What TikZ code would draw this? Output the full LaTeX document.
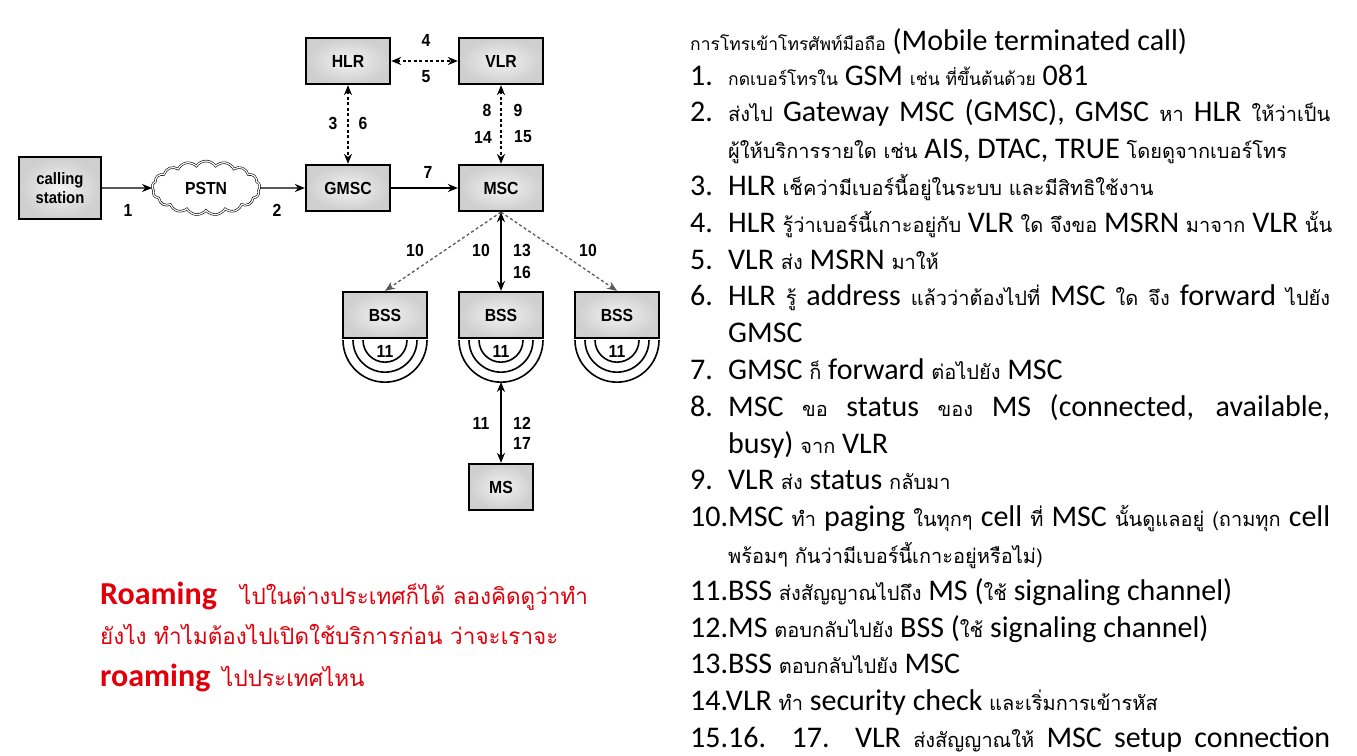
\documentclass[tikz,border=0pt]{standalone}
\usepackage{fontspec}
\setmainfont{Carlito}
\newfontfamily\thf[Script=Thai]{Loma}
\newfontfamily\dg[FakeStretch=0.9]{Liberation Sans}
\usetikzlibrary{shapes.symbols,arrows.meta}
\definecolor{rd}{RGB}{225,0,10}
\newcommand{\T}[1]{{\thf\fontsize{20}{24}\selectfont #1}}
\newcommand{\Ts}[1]{{\thf\fontsize{17.5}{22}\selectfont #1}}
\newcommand{\TR}[1]{{\thf\fontsize{22.5}{28}\selectfont #1}}
\tikzset{
  box/.style={draw, line width=2.3pt, inner color=gray!10, outer color=gray!38,
    minimum width=84, minimum height=46, inner sep=0,
    font=\dg\bfseries\fontsize{17.5}{19}\selectfont},
  lbl/.style={font=\dg\bfseries\fontsize{17.5}{19}\selectfont, inner sep=0},
  conn/.style={line width=1.3pt, -{Stealth[length=10pt,width=8pt]}},
  bconn/.style={line width=1.3pt, {Stealth[length=10pt,width=8pt]}-{Stealth[length=10pt,width=8pt]}},
  dsh/.style={dash pattern=on 3pt off 2.5pt},
  txt/.style={anchor=base west, inner sep=0, font=\fontsize{30}{36}\selectfont},
  rtxt/.style={anchor=base west, inner sep=0, text=rd, font=\fontsize{31}{36}\selectfont},
}
\begin{document}
\begin{tikzpicture}[x=1pt,y=-1pt]
\useasboundingbox (0,0) rectangle (1357,755);
% ---- diagram ----
\node[box, minimum width=82, minimum height=62, align=center,
  font=\dg\bfseries\fontsize{16.5}{19}\selectfont] (cs) at (60,188) {calling\\station};
\node[cloud, draw, cloud puffs=17, cloud puff arc=110, aspect=2.1, minimum width=108,
  minimum height=54, line width=0.6pt, double, double distance=1.2pt,
  font=\dg\bfseries\fontsize{17.5}{19}\selectfont] (pstn) at (206,188) {PSTN};
\node[box] (gmsc) at (348,188) {GMSC};
\node[box] (msc) at (501,188) {MSC};
\node[box] (hlr) at (348,61) {HLR};
\node[box] (vlr) at (501,61) {VLR};
\node[box] (bss1) at (385,315) {BSS};
\node[box] (bss2) at (501,315) {BSS};
\node[box] (bss3) at (617,315) {BSS};
\node[box, minimum width=64] (ms) at (501,487) {MS};
\foreach \b in {bss1,bss2,bss3}{
  \foreach \r in {22,32,42}{
    \draw[line width=1.6pt] ([xshift=\r pt, yshift=-1pt]\b.south) arc[start angle=0,end angle=180,radius=\r];
  }
  \node[lbl] at ([yshift=-12pt]\b.south) {11};
}
\coordinate (arcb) at (501,382);
\draw[conn] (cs) -- (pstn);
\draw[conn] (pstn) -- (gmsc);
\draw[conn] (gmsc) -- (msc);
\draw[bconn, dsh] (hlr) -- (vlr);
\draw[bconn, dsh] (hlr) -- (gmsc);
\draw[bconn, dsh] (vlr) -- (msc);
\draw[conn, dsh, draw=gray!70!black] (msc.south) -- (bss1.north);
\draw[conn, dsh, draw=gray!70!black] (msc.south) -- (bss3.north);
\draw[bconn] (msc) -- (bss2);
\draw[bconn] (arcb) -- (ms);
\node[lbl] (n1) at (128,210) {1};
\node[lbl] (n2) at (277,210) {2};
\node[lbl] (n7) at (428,172) {7};
\node[lbl] (n4) at (426,40) {4};
\node[lbl] (n5) at (426,77) {5};
\node[lbl] (n3) at (333,123) {3};
\node[lbl] (n6) at (363,123) {6};
\node[lbl] (n8) at (487,110) {8};
\node[lbl] (n9) at (518,110) {9};
\node[lbl] (n14) at (483,137) {14};
\node[lbl] (n15) at (523,137) {15};
\node[lbl] (n10a) at (415,250) {10};
\node[lbl] (n10b) at (481,250) {10};
\node[lbl] (n13) at (522,250) {13};
\node[lbl] (n16) at (522,272) {16};
\node[lbl] (n10c) at (588,250) {10};
\node[lbl] (n11) at (481,423) {11};
\node[lbl] (n12) at (522,423) {12};
\node[lbl] (n17) at (522,443) {17};
% ---- red note ----
\node[rtxt, font=\bfseries\fontsize{32}{36}\selectfont] (r1) at (100,604) {Roaming};
\node[rtxt] (r1t) at (240,604) {\TR{ไปในต่างประเทศก็ได้ ลองคิดดูว่าทำ}};
\node[rtxt] (r2) at (100,644) {\TR{ยังไง ทำไมต้องไปเปิดใช้บริการก่อน ว่าจะเราจะ}};
\node[rtxt, font=\bfseries\fontsize{32}{36}\selectfont] (r3) at (100,686) {roaming};
\node[rtxt] (r3t) at (222,686) {\TR{ไปประเทศไหน}};
% ---- list ----
\node[txt] (title) at (690,50) {\Ts{การโทรเข้าโทรศัพท์มือถือ} (Mobile terminated call)};
\node[txt] (a1) at (690,85) {1.};
\node[txt] (b1) at (728,85) {\Ts{กดเบอร์โทรใน} GSM \Ts{เช่น ที่ขึ้นต้นด้วย} 081};
\node[txt] (a2) at (690,121.8) {2.};
\node[txt] (b2) at (728,121.8) {\makebox[602pt][s]{\T{ส่งไป} Gateway MSC (GMSC), GMSC \T{หา} HLR \T{ให้ว่าเป็น}}};
\node[txt] (c2) at (728,158.6) {\T{ผู้ให้บริการรายใด เช่น} AIS, DTAC, TRUE \T{โดยดูจากเบอร์โทร}};
\node[txt] (a3) at (690,195.4) {3.};
\node[txt] (b3) at (728,195.4) {HLR \T{เช็คว่ามีเบอร์นี้อยู่ในระบบ และมีสิทธิใช้งาน}};
\node[txt] (a4) at (690,232.2) {4.};
\node[txt] (b4) at (728,232.2) {HLR \T{รู้ว่าเบอร์นี้เกาะอยู่กับ} VLR \T{ใด จึงขอ} MSRN \T{มาจาก} VLR \T{นั้น}};
\node[txt] (a5) at (690,269) {5.};
\node[txt] (b5) at (728,269) {VLR \T{ส่ง} MSRN \T{มาให้}};
\node[txt] (a6) at (690,305.8) {6.};
\node[txt] (b6) at (728,305.8) {\makebox[602pt][s]{HLR \T{รู้} address \T{แล้วว่าต้องไปที่} MSC \T{ใด จึง} forward \T{ไปยัง}}};
\node[txt] (c6) at (728,342.6) {GMSC};
\node[txt] (a7) at (690,379.4) {7.};
\node[txt] (b7) at (728,379.4) {GMSC \T{ก็} forward \T{ต่อไปยัง} MSC};
\node[txt] (a8) at (690,416.2) {8.};
\node[txt] (b8) at (728,416.2) {\makebox[602pt][s]{MSC \T{ขอ} status \T{ของ} MS (connected, available,}};
\node[txt] (c8) at (728,453) {busy) \T{จาก} VLR};
\node[txt] (a9) at (690,489.8) {9.};
\node[txt] (b9) at (728,489.8) {VLR \T{ส่ง} status \T{กลับมา}};
\node[txt] (b10) at (690,526.6) {\makebox[640pt][s]{10.MSC \T{ทำ} paging \T{ในทุกๆ} cell \T{ที่} MSC \T{นั้นดูแลอยู่ (ถามทุก} cell}};
\node[txt] (c10) at (728,563.4) {\T{พร้อมๆ กันว่ามีเบอร์นี้เกาะอยู่หรือไม่)}};
\node[txt] (b11) at (690,600.2) {11.BSS \T{ส่งสัญญาณไปถึง} MS (\T{ใช้} signaling channel)};
\node[txt] (b12) at (690,637) {12.MS \T{ตอบกลับไปยัง} BSS (\T{ใช้} signaling channel)};
\node[txt] (b13) at (690,673.8) {13.BSS \T{ตอบกลับไปยัง} MSC};
\node[txt] (b14) at (690,710.6) {14.VLR \T{ทำ} security check \T{และเริ่มการเข้ารหัส}};
\node[txt] (b15) at (690,747.4) {\makebox[640pt][s]{15.16. 17. VLR \T{ส่งสัญญาณให้} MSC setup connection}};
\end{tikzpicture}
\end{document}
